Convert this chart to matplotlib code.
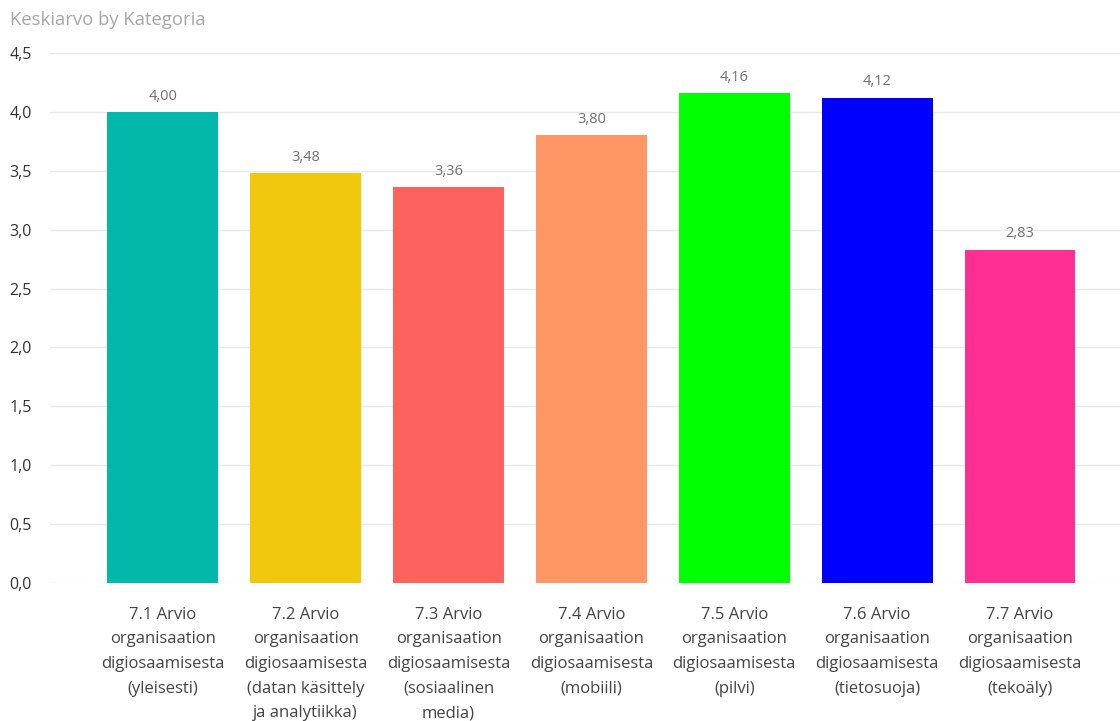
import numpy as np
import matplotlib.pyplot as plt

categories = [
    "7.1 Arvio\norganisaation\ndigiosaamisesta\n(yleisesti)",
    "7.2 Arvio\norganisaation\ndigiosaamisesta\n(datan käsittely\nja analytiikka)",
    "7.3 Arvio\norganisaation\ndigiosaamisesta\n(sosiaalinen\nmedia)",
    "7.4 Arvio\norganisaation\ndigiosaamisesta\n(mobiili)",
    "7.5 Arvio\norganisaation\ndigiosaamisesta\n(pilvi)",
    "7.6 Arvio\norganisaation\ndigiosaamisesta\n(tietosuoja)",
    "7.7 Arvio\norganisaation\ndigiosaamisesta\n(tekoäly)",
]
values = [4.00, 3.48, 3.36, 3.80, 4.16, 4.12, 2.83]
colors = ["#01B8AA", "#F2C80F", "#FD625E", "#FE9666", "#00FF00", "#0000FF", "#FF2E93"]
yticks = [0.0, 0.5, 1.0, 1.5, 2.0, 2.5, 3.0, 3.5, 4.0, 4.5]

plt.rcParams['font.family'] = ['Open Sans', 'DejaVu Sans']

fig = plt.figure(figsize=(11.2, 7.21), dpi=100)
ax = fig.add_axes([50 / 1120, 1 - 583 / 721, 1 - 50 / 1120, (583 - 53) / 721])

x = np.arange(len(categories))
ax.bar(x, values, width=0.776, color=colors, zorder=2)

for xi, v in zip(x, values):
    ax.annotate(f"{v:.2f}".replace(".", ","), (xi, v), xytext=(0, 6),
                textcoords="offset points", ha="center", va="bottom",
                fontsize=10.5, color="#707070")

ax.set_ylim(0, 4.5)
ax.set_xlim(-0.79, 6.7)
ax.set_yticks(yticks)
ax.set_yticklabels([f"{t:.1f}".replace(".", ",") for t in yticks],
                   fontsize=11.5, color="#333333")
ax.set_xticks(x)
ax.set_xticklabels(categories, fontsize=12, color="#444444", linespacing=1.72)
ax.tick_params(axis="both", length=0)
ax.tick_params(axis="x", pad=17)
ax.tick_params(axis="y", pad=29)
for lbl in ax.get_yticklabels():
    lbl.set_horizontalalignment("left")

ax.grid(axis="y", color="#E8E8E8", linewidth=1, zorder=0)
for s in ax.spines.values():
    s.set_visible(False)

fig.text(10 / 1120, 1 - 20 / 721, "Keskiarvo by Kategoria", fontsize=13.3,
         color="#A6A6A6", ha="left", va="center")

fig.savefig("out.png", dpi=100)
